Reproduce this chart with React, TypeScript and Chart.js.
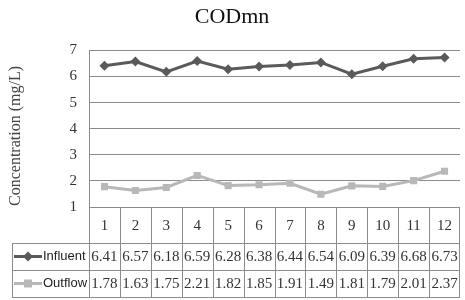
import React, { useEffect, useRef } from "react";
import { Chart, registerables } from "chart.js";
Chart.register(...registerables);

const chartTitle = "CODmn";
const yAxisTitle = "Concentration (mg/L)";
const categories = ["1", "2", "3", "4", "5", "6", "7", "8", "9", "10", "11", "12"];
const seriesNames = ["Influent", "Outflow"];
const influent = [6.41, 6.57, 6.18, 6.59, 6.28, 6.38, 6.44, 6.54, 6.09, 6.39, 6.68, 6.73];
const outflow = [1.78, 1.63, 1.75, 2.21, 1.82, 1.85, 1.91, 1.49, 1.81, 1.79, 2.01, 2.37];
const yMin = 1;
const yMax = 7;
const yStep = 1;

const INF_COLOR = "#5a5a5a";
const OUT_COLOR = "#b8b8b8";
const GRID = "#8c8c8c";
const SERIF = '"Liberation Serif", "DejaVu Serif", serif';
const SANS = '"Liberation Sans", Arial, sans-serif';

const HEADER_H = 36;
const ROW_H = 27;
const TABLE_LEFT = 12;

const tablePlugin = {
  id: "dataTable",
  afterDraw(chart: any) {
    const { ctx, chartArea } = chart;
    const left = chartArea.left;
    const right = chartArea.right;
    const top = chartArea.bottom;
    const n = categories.length;
    const colW = (right - left) / n;
    const hb = top + HEADER_H;
    const r1 = hb + ROW_H;
    const r2 = r1 + ROW_H;
    ctx.save();

    // y-axis title
    ctx.save();
    ctx.translate(16, 136);
    ctx.rotate(-Math.PI / 2);
    ctx.fillStyle = "#444";
    ctx.font = "16px " + SERIF;
    ctx.textAlign = "center";
    ctx.textBaseline = "middle";
    ctx.fillText(yAxisTitle, 0, 0);
    ctx.restore();

    ctx.strokeStyle = GRID;
    ctx.lineWidth = 1;
    ctx.beginPath();
    const h = (y: number, x0: number, x1: number) => {
      ctx.moveTo(x0, Math.round(y) + 0.5);
      ctx.lineTo(x1, Math.round(y) + 0.5);
    };
    h(hb, TABLE_LEFT, right);
    h(r1, TABLE_LEFT, right);
    h(r2, TABLE_LEFT, right);
    const v = (x: number, y0: number, y1: number) => {
      ctx.moveTo(Math.round(x) + 0.5, y0);
      ctx.lineTo(Math.round(x) + 0.5, y1);
    };
    v(TABLE_LEFT, hb, r2 + 0.5);
    for (let i = 0; i <= n; i++) {
      const x = Math.min(left + i * colW, right - 1);
      v(x, top, r2 + 0.5);
    }
    ctx.stroke();

    ctx.fillStyle = "#333";
    ctx.font = "15px " + SERIF;
    ctx.textAlign = "center";
    ctx.textBaseline = "middle";
    const rows = [influent, outflow];
    rows.forEach((vals, ri) => {
      const cy = hb + ROW_H * ri + ROW_H / 2 + 1;
      vals.forEach((val, i) => {
        const cx = left + (i + 0.5) * colW;
        ctx.fillText(val.toFixed(2), cx, cy);
      });
    });

    const colors = [INF_COLOR, OUT_COLOR];
    seriesNames.forEach((name, ri) => {
      const cy = hb + ROW_H * ri + ROW_H / 2;
      ctx.strokeStyle = colors[ri];
      ctx.lineWidth = 3;
      ctx.beginPath();
      ctx.moveTo(14, cy);
      ctx.lineTo(42, cy);
      ctx.stroke();
      ctx.fillStyle = colors[ri];
      ctx.beginPath();
      if (ri === 0) {
        ctx.moveTo(28, cy - 5);
        ctx.lineTo(33, cy);
        ctx.lineTo(28, cy + 5);
        ctx.lineTo(23, cy);
        ctx.closePath();
      } else {
        ctx.rect(24, cy - 4, 8, 8);
      }
      ctx.fill();
      ctx.fillStyle = "#222";
      ctx.font = "13px " + SANS;
      ctx.textAlign = "left";
      ctx.fillText(name, 43, cy);
    });
    ctx.restore();
  },
};

export default function App() {
  const ref = useRef<HTMLCanvasElement>(null);
  useEffect(() => {
    document.body.style.margin = "0";
    const chart = new Chart(ref.current!, {
      type: "line",
      data: {
        labels: categories,
        datasets: [
          {
            label: seriesNames[0],
            data: influent,
            borderColor: INF_COLOR,
            backgroundColor: INF_COLOR,
            borderWidth: 3,
            pointStyle: "rectRot",
            pointRadius: 5,
            pointBorderWidth: 0,
            tension: 0,
          },
          {
            label: seriesNames[1],
            data: outflow,
            borderColor: OUT_COLOR,
            backgroundColor: OUT_COLOR,
            borderWidth: 3,
            pointStyle: "rect",
            pointRadius: 5,
            pointBorderWidth: 0,
            tension: 0,
          },
        ],
      },
      options: {
        animation: false,
        responsive: false,
        layout: { padding: { left: 0, right: 1, top: 0, bottom: 57 } },
        plugins: {
          legend: { display: false },
          tooltip: { enabled: false },
          title: {
            display: true,
            text: chartTitle,
            color: "#111",
            font: { family: SERIF, size: 22, weight: "normal" },
            padding: { top: 4, bottom: 20 },
          },
        },
        scales: {
          x: {
            offset: true,
            grid: { display: false, drawTicks: false },
            border: { display: false },
            ticks: {
              color: "#333",
              font: { family: SERIF, size: 15 },
              padding: 10,
              maxRotation: 0,
              autoSkip: false,
            },
            afterFit: (s: any) => {
              s.height = HEADER_H;
            },
          },
          y: {
            min: yMin,
            max: yMax,
            grid: { color: GRID, drawTicks: false, lineWidth: 1 },
            border: { display: true, color: GRID },
            ticks: {
              stepSize: yStep,
              color: "#333",
              font: { family: SERIF, size: 15 },
              padding: 12,
            },
            afterFit: (s: any) => {
              s.width = 89;
            },
          },
        },
      },
      plugins: [tablePlugin],
    });
    return () => chart.destroy();
  }, []);
  return <canvas ref={ref} width={465} height={300} style={{ display: "block" }} />;
}
